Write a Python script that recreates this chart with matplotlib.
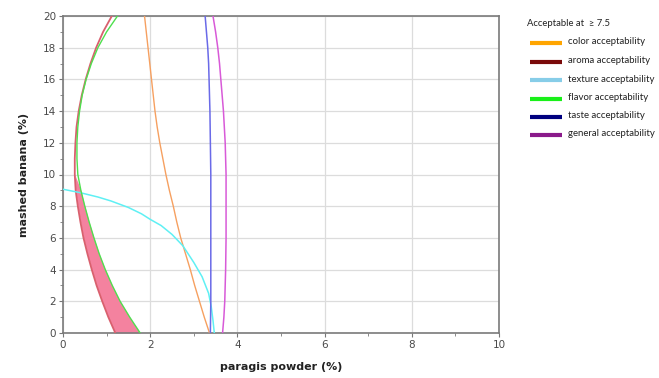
import numpy as np
import matplotlib
matplotlib.use('Agg')
import matplotlib.pyplot as plt
from matplotlib.lines import Line2D
from matplotlib.ticker import MultipleLocator

# contour lines, x (paragis powder) read at given y (mashed banana)
y_full = [20, 19, 18, 17, 16, 15, 14, 13, 12, 11, 10, 9, 8, 7, 6, 5, 4, 3, 2, 1, 0]
aroma_x = [1.12, 0.92, 0.76, 0.63, 0.52, 0.43, 0.36, 0.31, 0.285, 0.27, 0.27,
           0.29, 0.34, 0.40, 0.47, 0.56, 0.66, 0.77, 0.90, 1.04, 1.20]
flavor_x = [1.25, 1.00, 0.80, 0.65, 0.53, 0.44, 0.38, 0.34, 0.32, 0.32, 0.34,
            0.41, 0.50, 0.60, 0.71, 0.83, 0.97, 1.13, 1.31, 1.53, 1.77]
color_x = [1.87, 1.91, 1.95, 1.99, 2.03, 2.07, 2.11, 2.16, 2.22, 2.29, 2.36,
           2.44, 2.53, 2.61, 2.70, 2.81, 2.92, 3.02, 3.13, 3.24, 3.36]
taste_x = [3.26, 3.29, 3.32, 3.34, 3.35, 3.36, 3.37, 3.375, 3.38, 3.385, 3.39,
           3.39, 3.39, 3.39, 3.39, 3.39, 3.39, 3.39, 3.39, 3.385, 3.38]
general_x = [3.44, 3.50, 3.55, 3.59, 3.62, 3.65, 3.68, 3.70, 3.72, 3.73, 3.74,
             3.74, 3.74, 3.74, 3.74, 3.735, 3.73, 3.72, 3.71, 3.69, 3.66]

texture_x = [0, 0.4, 0.8, 1.1, 1.5, 1.8, 2.0, 2.25, 2.5, 2.75, 3.0, 3.19, 3.34, 3.40, 3.44, 3.47]
texture_y = [9.07, 8.85, 8.58, 8.33, 7.92, 7.52, 7.17, 6.78, 6.22, 5.5, 4.45, 3.55, 2.50, 1.66, 0.8, 0.0]

legend_labels = ['color acceptability', 'aroma acceptability', 'texture acceptability',
                 'flavor acceptability', 'taste acceptability', 'general acceptability']
legend_colors = ['#ffa500', '#7a0a0a', '#87cde8', '#19f019', '#00007f', '#8a1a8a']

fig = plt.figure(figsize=(6.59, 3.78), dpi=100)
ax = fig.add_axes([63 / 659, 45 / 378, 436 / 659, 317 / 378])

yf = np.array(y_full, dtype=float)
ax.fill_betweenx(yf, aroma_x, flavor_x, where=yf <= 9.3, interpolate=True,
                 color='#f4829f', lw=0, zorder=2)
ax.plot(aroma_x, y_full, color='#d9606e', lw=1.3, zorder=3)
ax.plot(flavor_x, y_full, color='#4ee04e', lw=1.0, zorder=4)
ax.plot(color_x, y_full, color='#f6a060', lw=1.0, zorder=3)
ax.plot(texture_x, texture_y, color='#5ff0f4', lw=1.1, zorder=3)
ax.plot(taste_x, y_full, color='#6a6ae8', lw=1.1, zorder=3)
ax.plot(general_x, y_full, color='#d85ad8', lw=1.1, zorder=3)

ax.set_xlim(0, 10)
ax.set_ylim(0, 20)
ax.xaxis.set_major_locator(MultipleLocator(2))
ax.xaxis.set_minor_locator(MultipleLocator(1))
ax.yaxis.set_major_locator(MultipleLocator(2))
ax.yaxis.set_minor_locator(MultipleLocator(1))
ax.grid(True, which='major', color='#dcdcdc', lw=0.9, zorder=0)
ax.set_axisbelow(True)
ax.tick_params(which='both', direction='out', colors='#777777', labelcolor='#4a4a4a',
               labelsize=7.5)
ax.tick_params(which='major', length=3, pad=2)
ax.tick_params(which='minor', length=2)
for s in ax.spines.values():
    s.set_color('#7a7a7a')
    s.set_linewidth(1.2)

ax.set_xlabel('paragis powder (%)', fontsize=8, fontweight='bold', color='#222222', labelpad=9)
ax.set_ylabel('mashed banana (%)', fontsize=8, fontweight='bold', color='#222222', labelpad=10)

# legend drawn in figure pixels
W, H = 659, 378
fig.text(527 / W, 1 - 23 / H, 'Acceptable at  \u2265 7.5', fontsize=6.8, color='#222222',
         family='Lato', va='center', ha='left')
row_y = [43, 61.5, 80, 98.5, 117, 135]
for lab, col, ry in zip(legend_labels, legend_colors, row_y):
    fig.add_artist(Line2D([530 / W, 562 / W], [1 - ry / H, 1 - ry / H], color=col,
                          lw=3, transform=fig.transFigure, solid_capstyle='butt'))
    fig.text(568 / W, 1 - (ry - 1) / H, lab, fontsize=6.9, color='#222222',
             family='Lato', va='center', ha='left')

fig.savefig('out.png', dpi=100)
